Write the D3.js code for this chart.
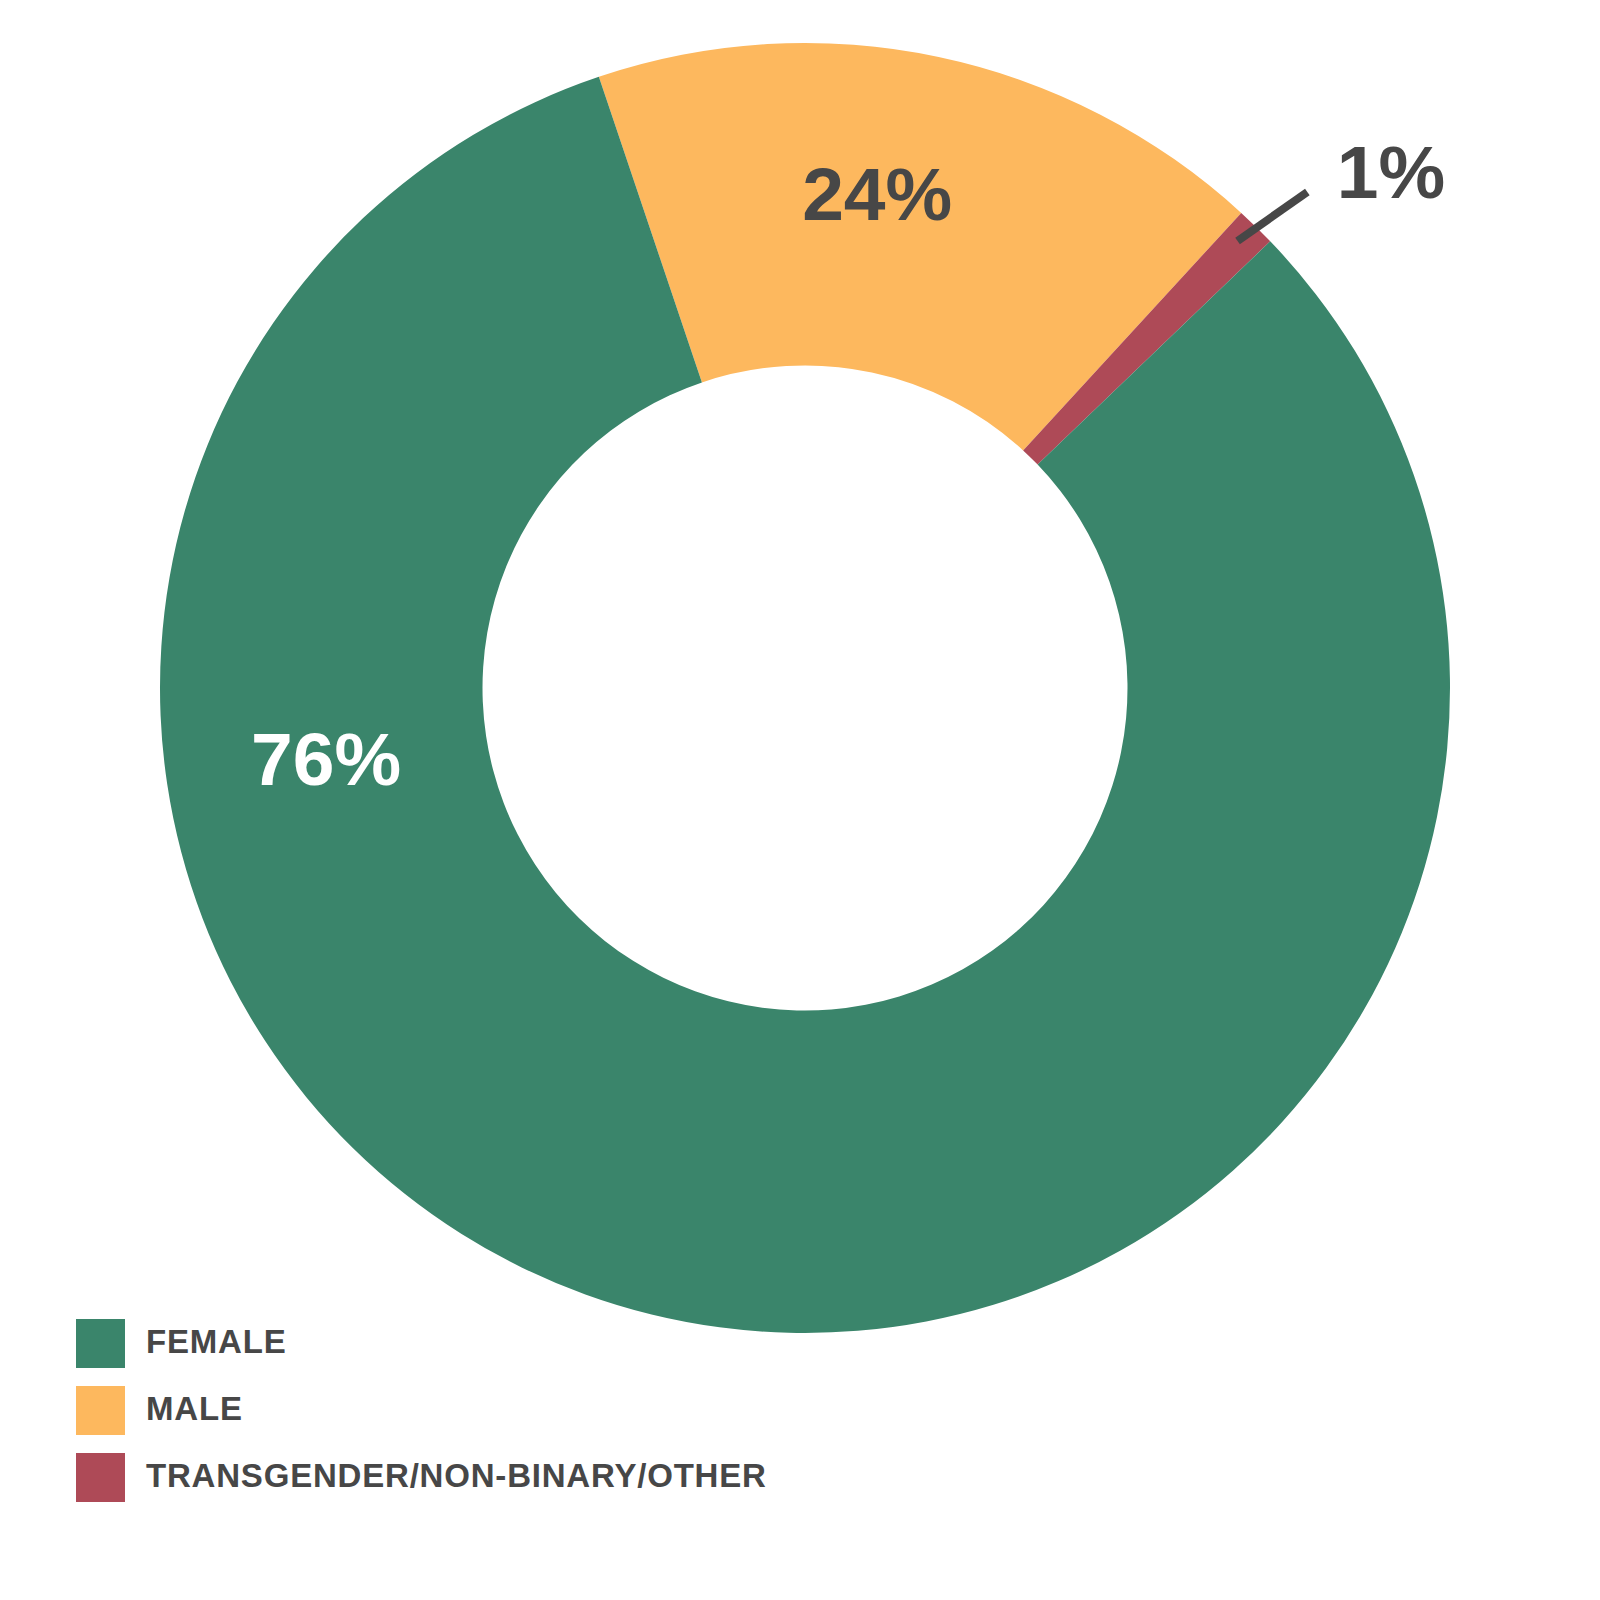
<!DOCTYPE html>
<html>
<head>
<meta charset="utf-8">
<script src="https://cdn.jsdelivr.net/npm/d3@7"></script>
<style>
  html, body { margin: 0; padding: 0; background: #ffffff; }
  svg { display: block; }
  text { font-family: "Liberation Sans", Arial, sans-serif; font-weight: bold; }
</style>
</head>
<body>
<svg id="chart" width="1600" height="1600"></svg>
<script>
// ---- data ----
const categories = ["MALE", "TRANSGENDER/NON-BINARY/OTHER", "FEMALE"];
const sliceShares = [17, 1, 82];          // share of the ring each slice covers, as drawn
const sliceLabels = ["24%", "1%", "76%"];  // printed labels
const legendOrder = ["FEMALE", "MALE", "TRANSGENDER/NON-BINARY/OTHER"];
const colors = ["#fdb85e", "#ae4a57", "#3a856b"];

// ---- layout ----
const W = 1600, H = 1600;
const cx = 805, cy = 688;
const outerR = 645, innerR = 322.5;
const startDeg = -18.64;
const textColor = "#474747";

const svg = d3.select("#chart");
const color = d3.scaleOrdinal().domain(categories).range(colors);

const pie = d3.pie()
  .sort(null)
  .value(d => d.value)
  .startAngle(startDeg * Math.PI / 180)
  .endAngle(startDeg * Math.PI / 180 + 2 * Math.PI);

const data = categories.map((c, i) => ({ cat: c, value: sliceShares[i], label: sliceLabels[i] }));
const arcs = pie(data);
const arc = d3.arc().innerRadius(innerR).outerRadius(outerR);

const g = svg.append("g").attr("transform", `translate(${cx},${cy})`);
g.selectAll("path.slice")
  .data(arcs)
  .join("path")
  .attr("class", "slice")
  .attr("d", arc)
  .attr("fill", d => color(d.data.cat));

// labels: polar placement (angle in degrees clockwise from 12 o'clock, radius)
const labelPolar = {
  "MALE": { a: 8.3, r: 500, fill: textColor },
  "FEMALE": { a: 261.7, r: 484, fill: "#ffffff" },
  "TRANSGENDER/NON-BINARY/OTHER": { a: 48.0, r: 814, fill: textColor }
};
function polar(aDeg, r) {
  const a = aDeg * Math.PI / 180;
  return [r * Math.sin(a), -r * Math.cos(a)];
}

// leader line for the small slice
const tr = arcs[1];
const midA = (tr.startAngle + tr.endAngle) / 2 * 180 / Math.PI;
const p1 = polar(midA - 0.3, 622), p2 = polar(midA + 1.0, 706);
g.append("line")
  .attr("x1", p1[0]).attr("y1", p1[1])
  .attr("x2", p2[0]).attr("y2", p2[1])
  .attr("stroke", textColor)
  .attr("stroke-width", 8);

g.selectAll("text.lbl")
  .data(arcs)
  .join("text")
  .attr("class", "lbl")
  .attr("x", d => {
    const lp = labelPolar[d.data.cat];
    return polar(lp.a, lp.r)[0];
  })
  .attr("y", d => {
    const lp = labelPolar[d.data.cat];
    return polar(lp.a, lp.r)[1];
  })
  .attr("text-anchor", "middle")
  .attr("dy", "0.36em")
  .attr("font-size", 75)
  .attr("fill", d => labelPolar[d.data.cat].fill)
  .text(d => d.data.label);

// fix the "1%" label to the measured spot
g.selectAll("text.lbl").filter(d => d.data.cat === categories[1])
  .attr("x", 1391 - cx).attr("y", 171 - cy);

// ---- legend ----
const legY = d3.scalePoint().domain(legendOrder).range([1319, 1453]);
const leg = svg.append("g");
const items = leg.selectAll("g.item")
  .data(legendOrder)
  .join("g")
  .attr("class", "item")
  .attr("transform", d => `translate(76,${legY(d)})`);
items.append("rect")
  .attr("width", 49).attr("height", 49)
  .attr("fill", d => color(d));
items.append("text")
  .attr("x", 70)
  .attr("y", 34)
  .attr("font-size", 33)
  .attr("letter-spacing", 0.8)
  .attr("fill", textColor)
  .text(d => d);
</script>
</body>
</html>
